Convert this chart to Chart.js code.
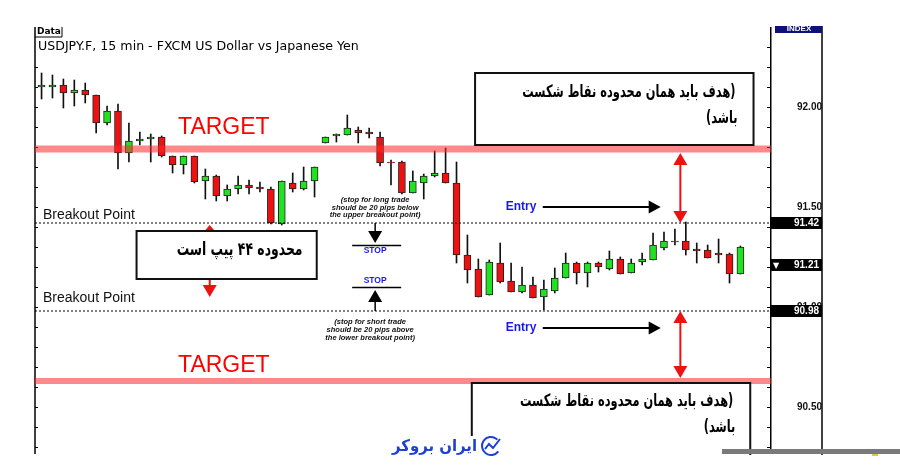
<!DOCTYPE html>
<html>
<head>
<meta charset="utf-8">
<script src="https://cdn.jsdelivr.net/npm/chart.js@4.4.0/dist/chart.umd.min.js"></script>
<style>
  html, body { margin: 0; padding: 0; background: #fff; }
  #wrap { position: relative; width: 900px; height: 471px; }
</style>
</head>
<body>
<div id="wrap"><canvas id="chart" width="900" height="471"></canvas></div>
<script>
// USDJPY 15 min candles
const opens  = [92.10, 92.10, 92.11, 92.07, 92.085, 92.06, 91.92, 91.98, 91.77, 91.83,
                91.84, 91.85, 91.755, 91.71, 91.755, 91.63, 91.655, 91.555, 91.59, 91.61,
                91.60, 91.59, 91.415, 91.62, 91.59, 91.63, 91.82, 91.855, 91.86, 91.885,
                91.875, 91.85, 91.725, 91.725, 91.57, 91.62, 91.655, 91.67, 91.62, 91.26,
                91.19, 91.06, 91.22, 91.13, 91.075, 91.11, 91.05, 91.08, 91.145, 91.22,
                91.17, 91.22, 91.19, 91.24, 91.17, 91.225, 91.235, 91.295, 91.33, 91.33,
                91.29, 91.285, 91.27, 91.265, 91.165];
const highs  = [92.17, 92.16, 92.14, 92.135, 92.12, 92.06, 92.005, 92.015, 91.92, 91.875,
                91.865, 91.855, 91.755, 91.755, 91.755, 91.69, 91.66, 91.61, 91.655, 91.635,
                91.625, 91.60, 91.63, 91.67, 91.70, 91.70, 91.85, 91.865, 91.96, 91.90,
                91.895, 91.875, 91.735, 91.73, 91.68, 91.665, 91.78, 91.795, 91.725, 91.36,
                91.24, 91.235, 91.32, 91.22, 91.20, 91.15, 91.135, 91.195, 91.27, 91.225,
                91.225, 91.225, 91.28, 91.25, 91.24, 91.27, 91.37, 91.375, 91.39, 91.425,
                91.32, 91.31, 91.34, 91.27, 91.305];
const lows   = [92.04, 92.045, 91.995, 92.005, 92.02, 91.87, 91.91, 91.69, 91.725, 91.81,
                91.725, 91.75, 91.67, 91.665, 91.62, 91.54, 91.53, 91.53, 91.565, 91.565,
                91.575, 91.415, 91.41, 91.575, 91.585, 91.55, 91.82, 91.825, 91.86, 91.82,
                91.845, 91.705, 91.61, 91.565, 91.57, 91.54, 91.65, 91.62, 91.22, 91.12,
                91.05, 91.06, 91.12, 91.075, 91.07, 91.045, 90.985, 91.07, 91.145, 91.115,
                91.10, 91.175, 91.185, 91.165, 91.17, 91.21, 91.235, 91.285, 91.31, 91.26,
                91.22, 91.245, 91.22, 91.12, 91.165];
const closes = [92.11, 92.11, 92.07, 92.085, 92.06, 91.92, 91.98, 91.77, 91.83, 91.84,
                91.85, 91.755, 91.71, 91.755, 91.625, 91.655, 91.555, 91.59, 91.61, 91.595,
                91.59, 91.42, 91.63, 91.59, 91.63, 91.70, 91.85, 91.865, 91.895, 91.87,
                91.865, 91.72, 91.72, 91.57, 91.63, 91.655, 91.67, 91.62, 91.26, 91.185,
                91.05, 91.225, 91.125, 91.075, 91.11, 91.045, 91.09, 91.145, 91.22, 91.17,
                91.22, 91.20, 91.24, 91.165, 91.22, 91.24, 91.31, 91.33, 91.325, 91.285,
                91.28, 91.245, 91.26, 91.165, 91.30];

// price axis
const yTickValues = [90.3, 90.4, 90.5, 90.6, 90.7, 90.8, 90.9, 91.0, 91.1, 91.2, 91.3,
                     91.4, 91.5, 91.6, 91.7, 91.8, 91.9, 92.0, 92.1, 92.2, 92.3];
const yTickLabels = ['92.00', '91.50', '91.00', '90.50'];
const priceTags = ['91.42', '91.21', '90.98'];

// levels marked on the chart
const upperBreakout = 91.42;
const lowerBreakout = 90.98;
const upperTarget = 91.79;
const lowerTarget = 90.63;

const GREEN = '#22e022';
const RED = '#ee1111';

const bodies = opens.map((o, i) => ({ x: i, y: [o, closes[i]] }));
const wicks = lows.map((l, i) => ({ x: i, y: [l, highs[i]] }));
const bodyColors = opens.map((o, i) => closes[i] >= o ? GREEN : RED);

function arrowHead(ctx, x, y, dir, half, len) {
    // dir: 1 = pointing down, -1 = up, 2 = right
    ctx.beginPath();
    if (dir === 2) {
        ctx.moveTo(x, y);
        ctx.lineTo(x - len, y - half);
        ctx.lineTo(x - len, y + half);
    } else {
        ctx.moveTo(x, y);
        ctx.lineTo(x - half, y - dir * len);
        ctx.lineTo(x + half, y - dir * len);
    }
    ctx.closePath();
    ctx.fill();
}

// persian text, right aligned and squeezed a bit to match the narrow original face
function rtlText(ctx, text, x, y, squeeze) {
    ctx.save();
    ctx.translate(x, y);
    ctx.scale(squeeze, 1);
    ctx.direction = 'rtl';
    ctx.textAlign = 'right';
    ctx.fillText(text, 0, 0);
    ctx.restore();
}

const annotations = {
    id: 'annotations',
    afterDraw(chart) {
        const ctx = chart.ctx;
        const ca = chart.chartArea;
        const X = v => chart.scales.x.getPixelForValue(v);
        const Y = v => chart.scales.y.getPixelForValue(v);
        const yUB = Y(upperBreakout), yLB = Y(lowerBreakout);
        const yUT = Y(upperTarget), yLT = Y(lowerTarget);
        ctx.save();

        // left axis line with small ticks
        ctx.strokeStyle = '#000';
        ctx.lineWidth = 1.5;
        ctx.beginPath();
        ctx.moveTo(ca.left, ca.top - 1);
        ctx.lineTo(ca.left, ca.bottom + 2);
        ctx.stroke();
        ctx.lineWidth = 1;
        yTickValues.forEach(v => {
            const y = Math.round(Y(v)) + 0.5;
            ctx.beginPath();
            if (v < 92.25) {
                ctx.moveTo(ca.left, y);
                ctx.lineTo(ca.left + 3, y);
            }
            ctx.moveTo(ca.right - 4, y);
            ctx.lineTo(ca.right, y);
            ctx.stroke();
        });

        // right frame of the price column
        ctx.lineWidth = 1.5;
        ctx.beginPath();
        ctx.moveTo(ca.right + 51, ca.top - 2);
        ctx.lineTo(ca.right + 51, ca.bottom + 3);
        ctx.stroke();

        // INDEX header
        ctx.fillStyle = '#10107a';
        ctx.fillRect(ca.right + 4, ca.top - 2, 47, 7);
        ctx.fillStyle = '#fff';
        ctx.font = 'bold 8px "Liberation Sans"';
        ctx.textAlign = 'center';
        ctx.textBaseline = 'middle';
        ctx.fillText('INDEX', ca.right + 28, ca.top + 1);

        // Data tab and title
        ctx.fillStyle = '#000';
        ctx.font = 'bold 9px "DejaVu Sans"';
        ctx.textAlign = 'left';
        ctx.fillText('Data', ca.left + 2, ca.top + 4);
        ctx.lineWidth = 1;
        ctx.beginPath();
        ctx.moveTo(ca.left + 27, ca.top - 1);
        ctx.lineTo(ca.left + 27, ca.top + 9);
        ctx.lineTo(ca.left, ca.top + 9);
        ctx.stroke();
        ctx.font = '12.6px "DejaVu Sans"';
        ctx.fillText('USDJPY.F, 15 min - FXCM US Dollar vs Japanese Yen', ca.left + 3, ca.top + 19);

        // target bands
        ctx.fillStyle = 'rgba(255, 40, 40, 0.55)';
        ctx.fillRect(ca.left, yUT - 3.5, ca.right - ca.left, 7);
        ctx.fillRect(ca.left, yLT - 3, ca.right - ca.left, 6);
        ctx.fillStyle = '#ff0000';
        ctx.font = '23px "Liberation Sans"';
        ctx.textAlign = 'left';
        ctx.fillText('TARGET', X(12.5), yUT - 21);
        ctx.fillText('TARGET', X(12.5), yLT - 15);

        // breakout dotted lines
        ctx.strokeStyle = '#000';
        ctx.lineWidth = 1.2;
        ctx.setLineDash([2, 2]);
        [yUB, yLB].forEach(y => {
            ctx.beginPath();
            ctx.moveTo(ca.left, y);
            ctx.lineTo(ca.right, y);
            ctx.stroke();
        });
        ctx.setLineDash([]);
        ctx.fillStyle = '#111';
        ctx.font = '14px "Liberation Sans"';
        ctx.fillText('Breakout Point', ca.left + 8, yUB - 8);
        ctx.fillText('Breakout Point', ca.left + 8, yLB - 13);

        // range arrow and range box
        ctx.fillStyle = RED;
        ctx.strokeStyle = RED;
        ctx.lineWidth = 2;
        const ax = X(15.4);
        ctx.beginPath();
        ctx.moveTo(ax, yUB + 6);
        ctx.lineTo(ax, yLB - 24);
        ctx.stroke();
        arrowHead(ctx, ax, yUB + 2, -1, 6, 7);
        arrowHead(ctx, ax, yLB - 14, 1, 7, 12);
        const bx1 = X(8.7), bx2 = X(25.2);
        ctx.fillStyle = '#fff';
        ctx.fillRect(bx1, yUB + 8, bx2 - bx1, 48);
        ctx.strokeStyle = '#111';
        ctx.strokeRect(bx1, yUB + 8, bx2 - bx1, 48);
        ctx.fillStyle = '#000';
        ctx.font = 'bold 18px "DejaVu Sans"';
        rtlText(ctx, 'محدوده ۴۴ پیپ است', X(23.9), yUB + 27, 0.69);

        // stop markers
        const sx = X(30.55);
        ctx.strokeStyle = '#000';
        ctx.fillStyle = '#000';
        ctx.lineWidth = 1.5;
        ctx.beginPath();
        ctx.moveTo(sx, yUB);
        ctx.lineTo(sx, yUB + 9);
        ctx.moveTo(sx - 23, yUB + 22.5);
        ctx.lineTo(sx + 26, yUB + 22.5);
        ctx.moveTo(sx, yLB);
        ctx.lineTo(sx, yLB - 10);
        ctx.moveTo(sx - 23, yLB - 23.5);
        ctx.lineTo(sx + 26, yLB - 23.5);
        ctx.stroke();
        arrowHead(ctx, sx, yUB + 20, 1, 7, 12);
        arrowHead(ctx, sx, yLB - 21, -1, 7, 12);
        ctx.fillStyle = '#1a1ae6';
        ctx.font = 'bold 8.5px "Liberation Sans"';
        ctx.textAlign = 'center';
        ctx.fillText('STOP', sx, yUB + 28);
        ctx.fillText('STOP', sx, yLB - 30);

        ctx.fillStyle = '#111';
        ctx.font = 'italic bold 7.5px "Liberation Sans"';
        ctx.fillText('(stop for long trade', sx, yUB - 23);
        ctx.fillText('should be 20 pips below', sx, yUB - 15);
        ctx.fillText('the upper breakout point)', sx, yUB - 8);
        ctx.fillText('(stop for short trade', sx - 5, yLB + 11);
        ctx.fillText('should be 20 pips above', sx - 5, yLB + 19);
        ctx.fillText('the lower breakout point)', sx - 5, yLB + 27);

        // entry arrows
        ctx.fillStyle = '#1a1ae6';
        ctx.font = 'bold 12px "Liberation Sans"';
        ctx.textAlign = 'left';
        ctx.fillText('Entry', X(42.5), yUB - 16);
        ctx.fillText('Entry', X(42.5), yLB + 17);
        ctx.strokeStyle = '#000';
        ctx.fillStyle = '#000';
        ctx.lineWidth = 2;
        [yUB - 16, yLB + 17].forEach(y => {
            ctx.beginPath();
            ctx.moveTo(X(45.9), y);
            ctx.lineTo(X(55.8), y);
            ctx.stroke();
            arrowHead(ctx, X(56.7), y, 2, 6.5, 12);
        });

        // target distance arrows
        const tx = X(58.5);
        ctx.strokeStyle = RED;
        ctx.fillStyle = RED;
        ctx.beginPath();
        ctx.moveTo(tx, yUT + 12);
        ctx.lineTo(tx, yUB - 10);
        ctx.moveTo(tx, yLB + 10);
        ctx.lineTo(tx, yLT - 12);
        ctx.stroke();
        arrowHead(ctx, tx, yUT + 4, -1, 7, 12);
        arrowHead(ctx, tx, yUB, 1, 7, 12);
        arrowHead(ctx, tx, yLB, -1, 7, 12);
        arrowHead(ctx, tx, yLT - 3, 1, 7, 12);

        // target note boxes
        const nx1 = X(39.7), nx2 = X(65.2);
        ctx.fillStyle = '#fff';
        ctx.fillRect(nx1, yUT - 76, nx2 - nx1, 72);
        ctx.strokeStyle = '#111';
        ctx.strokeRect(nx1, yUT - 76, nx2 - nx1, 72);
        const lx1 = X(39.4), lx2 = X(64.9);
        ctx.fillRect(lx1, yLT + 2, lx2 - lx1, ca.bottom - yLT);
        ctx.beginPath();
        ctx.moveTo(lx1, ca.bottom + 3);
        ctx.lineTo(lx1, yLT + 2);
        ctx.lineTo(lx2, yLT + 2);
        ctx.lineTo(lx2, ca.bottom + 3);
        ctx.stroke();
        ctx.fillStyle = '#000';
        ctx.font = 'bold 17px "DejaVu Sans"';
        rtlText(ctx, '(هدف باید همان محدوده نقاط شکست', nx2 - 18, yUT - 56, 0.67);
        rtlText(ctx, 'باشد)', nx2 - 16, yUT - 30, 0.67);
        rtlText(ctx, '(هدف باید همان محدوده نقاط شکست', lx2 - 17, yLT + 21, 0.67);
        rtlText(ctx, 'باشد)', lx2 - 15, yLT + 47, 0.67);

        // price tags
        ctx.direction = 'ltr';
        priceTags.forEach(t => {
            const y = Y(parseFloat(t));
            ctx.fillStyle = '#000';
            ctx.fillRect(ca.right, y - 6, 51, 12);
            ctx.fillStyle = '#fff';
            ctx.font = 'bold 10px "Liberation Sans"';
            ctx.textAlign = 'right';
            ctx.fillText(t, ca.right + 48, y + 0.5);
        });
        ctx.font = '8px "DejaVu Sans"';
        ctx.textAlign = 'left';
        ctx.fillText('▼', ca.right + 2, Y(91.21) + 0.5);

        // bottom strip
        ctx.fillStyle = '#7a7a7a';
        ctx.fillRect(722, ca.bottom - 3, 178, 5);
        ctx.fillStyle = '#f0c040';
        ctx.fillRect(872, ca.bottom + 2, 6, 2);

        // logo
        ctx.fillStyle = '#fff';
        ctx.fillRect(388, ca.bottom - 16, 118, 22);
        ctx.fillStyle = '#1d3fd8';
        ctx.font = 'bold 16px "DejaVu Sans"';
        rtlText(ctx, 'ایران بروکر', 477, ca.bottom - 5, 0.93);
        ctx.strokeStyle = '#1d3fd8';
        ctx.lineWidth = 2;
        ctx.beginPath();
        ctx.arc(491, ca.bottom - 6, 9, 0.2 * Math.PI, 1.75 * Math.PI);
        ctx.stroke();
        ctx.beginPath();
        ctx.moveTo(485, ca.bottom - 3);
        ctx.lineTo(489, ca.bottom - 8);
        ctx.lineTo(493, ca.bottom - 4);
        ctx.lineTo(500, ca.bottom - 13);
        ctx.stroke();

        ctx.restore();
    }
};

new Chart(document.getElementById('chart'), {
    type: 'bar',
    data: {
        datasets: [{
            label: 'body',
            data: bodies,
            backgroundColor: bodyColors,
            borderColor: '#222',
            borderWidth: 1,
            borderSkipped: false,
            barThickness: 7,
            grouped: false
        }, {
            label: 'wick',
            data: wicks,
            backgroundColor: '#111',
            borderWidth: 0,
            barThickness: 1,
            grouped: false
        }]
    },
    options: {
        responsive: false,
        animation: false,
        layout: { padding: { left: 35, right: 78, top: 28, bottom: 19 } },
        plugins: {
            legend: { display: false },
            tooltip: { enabled: false }
        },
        scales: {
            x: {
                type: 'linear',
                min: -0.6,
                max: 66.8,
                offset: false,
                display: false
            },
            y: {
                type: 'linear',
                position: 'right',
                min: 90.275,
                max: 92.395,
                afterBuildTicks: axis => {
                    axis.ticks = yTickValues.map(v => ({ value: v }));
                },
                afterFit: axis => {
                    axis.width = 51;
                    axis.paddingTop = 0;
                    axis.paddingBottom = 0;
                },
                grid: { drawOnChartArea: false, drawTicks: false },
                border: { display: true, color: '#000', width: 1.5 },
                ticks: {
                    autoSkip: false,
                    padding: 17,
                    crossAlign: 'far',
                    color: '#111',
                    font: { family: 'Liberation Sans', size: 10, weight: 'bold' },
                    callback: v => {
                        const s = Number(v).toFixed(2);
                        return yTickLabels.includes(s) ? s : '';
                    }
                }
            }
        }
    },
    plugins: [annotations]
});
</script>
</body>
</html>
